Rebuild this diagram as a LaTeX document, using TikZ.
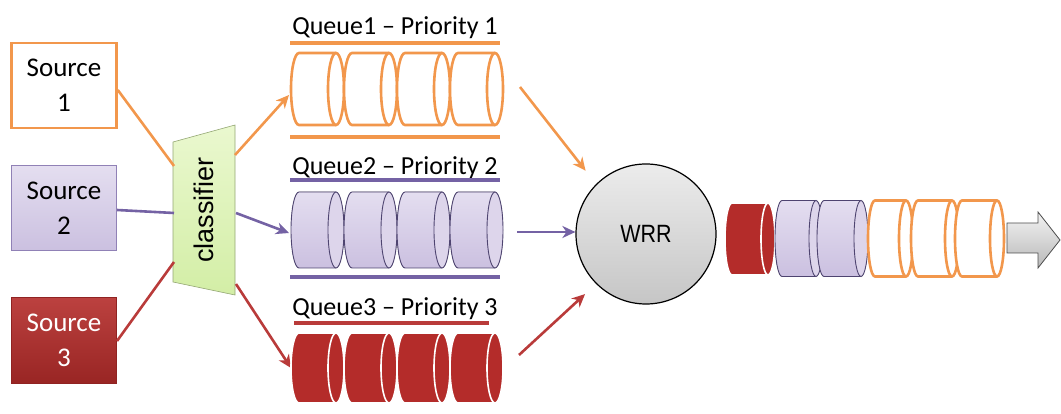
\documentclass[tikz,border=0pt]{standalone}
\usepackage{fontspec}
\setmainfont{Carlito}
\newfontfamily\clsfont{Liberation Sans}
\newfontfamily\wrrfont[FakeStretch=0.86]{Liberation Sans}
\usetikzlibrary{arrows.meta,calc}

\definecolor{qorange}{HTML}{F2974C}
\definecolor{qpurple}{HTML}{7462A4}
\definecolor{qred}{HTML}{B93B3A}
\definecolor{redfill}{HTML}{B42C2A}
\definecolor{lavtop}{HTML}{E4DEF0}
\definecolor{lavbot}{HTML}{CBC0E0}
\definecolor{lavline}{HTML}{4E4470}
\definecolor{clstop}{HTML}{EAF8CF}
\definecolor{clsbot}{HTML}{D3EEA6}

% horizontal cylinder: #1 left centre x, #2 right centre x, #3 centre y,
% #4 x radius, #5 y radius, #6 style prefix
\newcommand\qcyl[6]{%
  \fill[#6body] (#1,{#3-#5}) arc[start angle=90,end angle=270,x radius=#4pt,y radius=#5pt]
     -- (#2,{#3+#5}) arc[start angle=-90,end angle=90,x radius=#4pt,y radius=#5pt] -- cycle;
  \draw[#6line] (#2,{#3-#5}) -- (#1,{#3-#5})
     arc[start angle=90,end angle=270,x radius=#4pt,y radius=#5pt] -- (#2,{#3+#5});
  \draw[#6line,#6face] (#2,#3) ellipse[x radius=#4pt,y radius=#5pt];
}

\tikzset{
  ocylbody/.style={fill=white},
  ocylline/.style={draw=qorange,line width=2.6pt},
  ocylface/.style={fill=white},
  pcylbody/.style={top color=lavtop,bottom color=lavbot},
  pcylline/.style={draw=lavline,line width=0.9pt},
  pcylface/.style={fill=lavtop!70!lavbot},
  rcylbody/.style={fill=redfill},
  rcylline/.style={draw=white,line width=1.6pt},
  rcylface/.style={fill=redfill},
  srcbox/.style={rectangle,minimum width=105pt,minimum height=85pt,inner sep=0pt,
    align=center,font=\fontsize{27}{35}\selectfont},
  qlabel/.style={font=\fontsize{26}{30}\selectfont,inner sep=0pt},
  link/.style={line width=2.6pt},
  tip/.style={-{Stealth[length=13pt,width=12pt,inset=4pt]}},
  bar/.style={line width=4pt},
}

\begin{document}
\begin{tikzpicture}[x=1pt,y=-1pt]
\useasboundingbox (0,0) rectangle (1061,414);

% sources
\node[srcbox,draw=qorange,line width=2.6pt,fill=white] (s1) at (64,85.5) {Source\\1};
\node[srcbox,draw=qpurple!80,line width=1.2pt,top color=lavtop,bottom color=lavbot] (s2) at (64,208) {Source\\2};
\node[srcbox,draw=redfill!80!black,line width=1pt,top color=redfill!90!white,bottom color=redfill!85!black,text=white] (s3) at (64,340.5) {Source\\3};

% classifier
\path[draw=clsbot!70!black,line width=0.6pt,top color=clstop,bottom color=clsbot]
  (173,142) -- (235,125) -- (235,295) -- (173,282) -- cycle;
\node[rotate=90,font=\clsfont\fontsize{27}{30}\selectfont,inner sep=0pt] (cls) at (204,210) {classifier};
\coordinate (cin1) at (174,166);
\coordinate (cin2) at (174,213);
\coordinate (cin3) at (174,262);
\coordinate (cout1) at (235,155);
\coordinate (cout2) at (236,213);
\coordinate (cout3) at (236,284);

% queue entry and exit points
\coordinate (qin1) at (289,95);
\coordinate (qin2) at (289,233);
\coordinate (qin3) at (291,368);
\coordinate (qout1) at (520,87);
\coordinate (qout2) at (517,232);
\coordinate (qout3) at (519,355);

% source to classifier
\draw[link,qorange] (s1.east |- 0,90) -- (cin1);
\draw[link,qpurple] (s2.east |- 0,210) -- (cin2);
\draw[link,qred] (s3.east |- 0,341) -- (cin3);

% classifier to queues
\draw[link,tip,qorange] (cout1) -- (qin1);
\draw[link,tip,qpurple] (cout2) -- (qin2);
\draw[link,tip,qred] (cout3) -- (qin3);

% queue labels and rails
\node[qlabel] (l1) at (395,28) {Queue1 – Priority 1};
\node[qlabel] (l2) at (395,168) {Queue2 – Priority 2};
\node[qlabel] (l3) at (395,309) {Queue3 – Priority 3};
\draw[bar,qorange] (290,43) -- (500,43);
\draw[bar,qorange] (290,137) -- (500,137);
\draw[bar,qpurple] (290,180) -- (500,180);
\draw[bar,qpurple] (290,277) -- (500,277);
\draw[bar,qred] (294,323) -- (489,323);

% queued packets
\foreach \i in {0,...,3} {
  \pgfmathsetmacro\a{299+53*\i}
  \pgfmathsetmacro\b{\a+37}
  \qcyl{\a}{\b}{89}{8}{36}{ocyl}
  \qcyl{\a}{\b}{230}{8}{38}{pcyl}
  \qcyl{\a}{\b}{368}{8}{35}{rcyl}
}

% scheduler
\node[circle,minimum size=140pt,inner sep=0pt,draw=black,line width=1.2pt,
      top color=gray!15,bottom color=gray!45,font=\wrrfont\fontsize{25}{28}\selectfont] (wrr) at (646,234) {WRR};

\draw[link,tip,qorange,shorten >=17pt] (qout1) -- (wrr.135);
\draw[link,tip,qpurple] (qout2) -- (qout2 -| wrr.west);
\draw[link,tip,qred,shorten >=15pt] (qout3) -- (wrr.225);

% output stream
\qcyl{732}{768}{239}{7}{36}{rcyl}
\qcyl{782}{816}{238.5}{7}{38}{pcyl}
\qcyl{824}{861}{238.5}{7}{38}{pcyl}
\qcyl{875}{906}{238.5}{7}{38}{ocyl}
\qcyl{918}{952}{238.5}{7}{38}{ocyl}
\qcyl{962}{997}{238.5}{7}{38}{ocyl}

% outgoing arrow
\path[draw=gray!60!black,line width=0.8pt,top color=gray!10,bottom color=gray!55]
  (1007,223) -- (1038,223) -- (1038,212) -- (1060,240) -- (1038,268) -- (1038,253) -- (1007,253) -- cycle;
\end{tikzpicture}
\end{document}
